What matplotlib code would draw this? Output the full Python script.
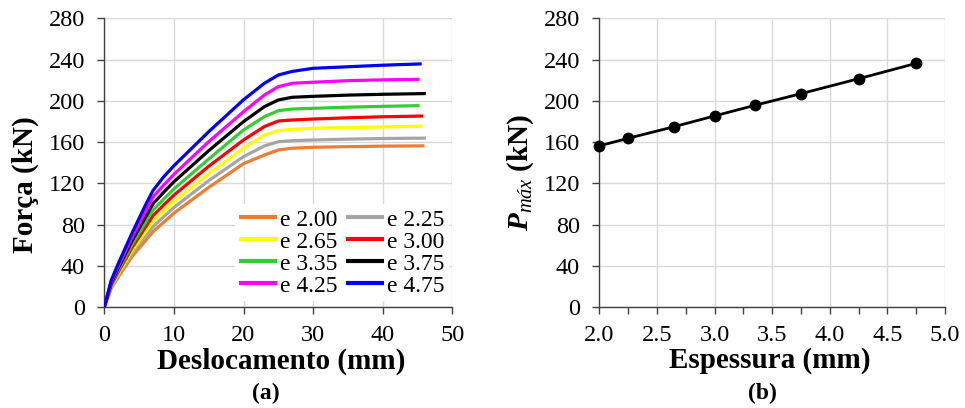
import matplotlib
matplotlib.use("Agg")
import matplotlib.pyplot as plt
from matplotlib.ticker import MultipleLocator, FormatStrFormatter

plt.rcParams['font.family'] = ['Liberation Serif', 'DejaVu Serif']
plt.rcParams['mathtext.fontset'] = 'custom'
plt.rcParams['mathtext.rm'] = 'Liberation Serif'
plt.rcParams['mathtext.it'] = 'Liberation Serif:italic'
plt.rcParams['mathtext.bf'] = 'Liberation Serif:bold'
plt.rcParams['mathtext.bfit'] = 'Liberation Serif:italic:bold'

# ---- data (a): force-displacement curves ----
x_disp = [0, 1, 2, 4, 6, 7, 8.5, 10, 15, 20, 23, 25, 27, 30, 35, 40]
labels = ['e 2.00', 'e 2.25', 'e 2.65', 'e 3.00', 'e 3.35', 'e 3.75', 'e 4.25', 'e 4.75']
x_end = [46.0, 46.2, 45.7, 45.8, 45.3, 46.2, 45.3, 45.6]
f_200 = [0, 18, 29, 49, 65, 73, 82, 91, 116, 139, 147.4, 152.3, 154, 154.9, 155.5, 156, 156.3]
f_225 = [0, 19, 30.6, 51.8, 69.2, 77.9, 87.3, 96.5, 122.5, 145.8, 156.2, 160.3, 161.3, 162, 162.8, 163.4, 163.8]
f_265 = [0, 20, 32.3, 54.8, 73.8, 83.3, 93, 102.5, 129.5, 154, 166.8, 171, 172.3, 173.3, 174, 174.7, 175.3]
f_300 = [0, 21, 33.9, 57.7, 78.3, 88.6, 98.7, 108.5, 136.5, 162, 175, 180.4, 181.4, 182.3, 183.5, 184.5, 185.2]
f_335 = [0, 22, 35.6, 60.7, 82.9, 93.9, 104.4, 114.5, 143.5, 171.7, 184.6, 190.4, 192, 192.7, 193.8, 194.6, 195.3]
f_375 = [0, 23.3, 37.6, 64.2, 88.1, 100.1, 111, 121.4, 151.6, 179.8, 194.3, 200.8, 203.4, 204.3, 205.5, 206.3, 207]
f_425 = [0, 24.6, 39.7, 67.9, 93.7, 106.6, 118, 128.7, 160.3, 189.4, 205.6, 213.7, 217, 218, 219.5, 220.3, 220.8]
f_475 = [0, 26, 42, 72, 100, 113, 126, 137, 170, 201, 217, 225, 228.5, 231.5, 233, 234.5, 235.8]
forces = [f_200, f_225, f_265, f_300, f_335, f_375, f_425, f_475]
colors = ['#ED7D31', '#A5A5A5', '#FFFF00', '#FF0000', '#33CC33', '#000000', '#FF00FF', '#0000FF']

# ---- data (b): max load vs thickness ----
espessura = [2.00, 2.25, 2.65, 3.00, 3.35, 3.75, 4.25, 4.75]
p_max = [156.3, 163.6, 174.9, 185.3, 195.6, 206.9, 221.4, 236.3]

W, H = 965, 408
fig = plt.figure(figsize=(W / 100, H / 100), dpi=100)

def px_axes(x0, x1, ytop, ybot):
    return fig.add_axes([x0 / W, 1 - ybot / H, (x1 - x0) / W, (ybot - ytop) / H])

ax1 = px_axes(104.3, 452.3, 18.3, 307)
ax2 = px_axes(599.3, 945, 18.3, 307)

grid_c = '#D9D9D9'
spine_c = '#404040'
for ax in (ax1, ax2):
    ax.set_ylim(0, 280)
    ax.yaxis.set_major_locator(MultipleLocator(40))
    ax.grid(True, color=grid_c, lw=1.0, zorder=0)
    ax.set_axisbelow(True)
    for s in ('top', 'right'):
        ax.spines[s].set_visible(False)
    for s in ('left', 'bottom'):
        ax.spines[s].set_color(spine_c)
        ax.spines[s].set_linewidth(1.0)
    ax.tick_params(axis='both', which='both', direction='out', color=spine_c,
                   labelsize=17.5, width=1.0)
    ax.tick_params(axis='y', which='major', length=5, pad=9)
    ax.tick_params(axis='x', which='major', length=5, pad=8)

# panel (a)
lines = []
for fv, xe, c, lab in zip(forces, x_end, colors, labels):
    ln, = ax1.plot(x_disp + [xe], fv, color=c, lw=2.3, label=lab, solid_capstyle='butt',
                   solid_joinstyle='round', zorder=3)
    lines.append(ln)
ax1.set_xlim(0, 50)
ax1.xaxis.set_major_locator(MultipleLocator(10))
# row-major legend order (2 columns)
order = [0, 2, 4, 6, 1, 3, 5, 7]
leg = ax1.legend([lines[i] for i in order], [labels[i] for i in order], ncol=2,
                 loc='lower right', bbox_to_anchor=(0.99, 0.02), borderaxespad=0,
                 fontsize=17, frameon=True, facecolor='white', edgecolor='none', framealpha=1,
                 fancybox=False, handlelength=1.6, handletextpad=0.1, columnspacing=0.4,
                 labelspacing=0.02, borderpad=0.2)
for line in leg.get_lines():
    line.set_linewidth(3)

# panel (b)
ax2.plot(espessura, p_max, color='black', lw=2, marker='o', markersize=7.5, clip_on=False, zorder=3)
ax2.set_xlim(2.0, 5.0)
ax2.xaxis.set_major_locator(MultipleLocator(0.5))
ax2.xaxis.set_minor_locator(MultipleLocator(0.25))
ax2.xaxis.set_major_formatter(FormatStrFormatter('%.1f'))
ax2.tick_params(axis='x', which='minor', length=5)

# labels
fig.text(281 / W, 1 - 361 / H, 'Deslocamento (mm)', ha='center', va='center', fontsize=21, fontweight='bold')
fig.text(266 / W, 1 - 393 / H, '(a)', ha='center', va='center', fontsize=17, fontweight='bold')
fig.text(25 / W, 1 - 185 / H, 'Força (kN)', ha='center', va='center', rotation=90, fontsize=21, fontweight='bold')
fig.text(770 / W, 1 - 361 / H, 'Espessura (mm)', ha='center', va='center', fontsize=21, fontweight='bold')
fig.text(762 / W, 1 - 393 / H, '(b)', ha='center', va='center', fontsize=17, fontweight='bold')
fig.text(521 / W, 1 - 172 / H, r'$\mathbfit{P}_{\mathit{máx}}$ (kN)', ha='center', va='center', rotation=90,
         fontsize=21, fontweight='bold')

fig.savefig('out.png', dpi=100)
